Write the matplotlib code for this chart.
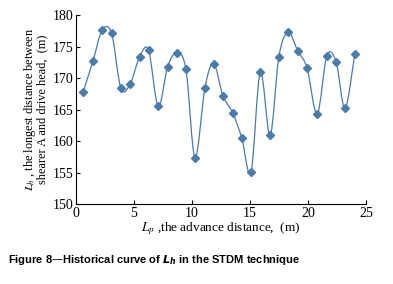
import numpy as np
import matplotlib
matplotlib.use('Agg')
import matplotlib.pyplot as plt
from matplotlib.path import Path
from matplotlib.patches import PathPatch

plt.rcParams['font.family'] = ['Liberation Serif', 'DejaVu Serif']
plt.rcParams['mathtext.fontset'] = 'stix'

# advance distance (m) and longest distance L_h (m)
ADVANCE = [0.63, 1.47, 2.27, 3.08, 3.88, 4.69, 5.50, 6.27, 7.10, 7.91,
           8.69, 9.49, 10.27, 11.13, 11.88, 12.68, 13.52, 14.30, 15.10, 15.90,
           16.74, 17.50, 18.30, 19.13, 19.93, 20.80, 21.63, 22.43, 23.20, 24.05]
LH = [167.8, 172.7, 177.6, 177.1, 168.4, 169.1, 173.4, 174.4, 165.5, 171.8,
      174.0, 171.4, 157.4, 168.5, 172.3, 167.2, 164.5, 160.5, 155.1, 171.0,
      160.9, 173.4, 177.3, 174.3, 171.6, 164.3, 173.5, 172.6, 165.2, 173.9]

XTICKS = [0, 5, 10, 15, 20, 25]
YTICKS = [150, 155, 160, 165, 170, 175, 180]

COLOR = '#4a7bab'


def smooth_path(xs, ys):
    # spreadsheet-style smoothed line: cubic bezier through every point
    pts = np.column_stack([xs, ys])
    n = len(pts)
    verts = [pts[0]]
    codes = [Path.MOVETO]
    for i in range(n - 1):
        p0 = pts[max(i - 1, 0)]
        p1 = pts[i]
        p2 = pts[i + 1]
        p3 = pts[min(i + 2, n - 1)]
        c1 = p1 + (p2 - p0) / 6.0
        c2 = p2 - (p3 - p1) / 6.0
        verts += [c1, c2, p2]
        codes += [Path.CURVE4] * 3
    return Path(verts, codes)


fig = plt.figure(figsize=(3.93, 2.84), dpi=100)
ax = fig.add_axes([0.193, 0.281, 0.738, 0.666])

ax.add_patch(PathPatch(smooth_path(ADVANCE, LH), facecolor='none',
                       edgecolor=COLOR, lw=0.9, zorder=2))
ax.plot(ADVANCE, LH, linestyle='none', marker='D', ms=4, color=COLOR,
        markeredgecolor=COLOR, zorder=3)

ax.set_xlim(0, 25)
ax.set_ylim(150, 180)
ax.set_xticks(XTICKS)
ax.set_yticks(YTICKS)
ax.spines['top'].set_visible(False)
ax.spines['right'].set_visible(False)
for s in ['left', 'bottom']:
    ax.spines[s].set_linewidth(0.8)
ax.tick_params(direction='in', length=3, width=0.8, labelsize=10, pad=2)

ax.set_xlabel(r'$L_p$ ,the advance distance,  (m)', fontsize=9.5, labelpad=0)
ax.set_ylabel('$L_h$ , the longest distance between\nshearer A and drive head,  (m)',
              fontsize=8.8, labelpad=3, linespacing=0.85)

fig.text(0.02, 0.075, r'Figure 8—Historical curve of $\mathbfit{L_h}$ in the STDM technique',
         fontsize=8, weight='bold', family='Liberation Sans',
         math_fontfamily='dejavusans')

fig.savefig('out.png', dpi=100)
